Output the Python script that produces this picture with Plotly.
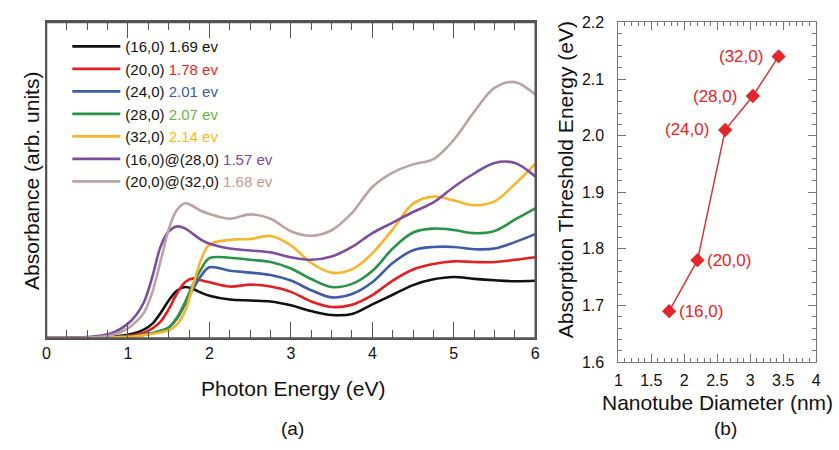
import plotly.graph_objects as go

# ---------------- data: panel (a) ----------------
energy = [0, 0.5, 0.8, 1.0, 1.1, 1.2, 1.3, 1.4, 1.5, 1.6, 1.7, 1.8, 1.9, 2.0, 2.25, 2.5, 2.75,
          3.0, 3.25, 3.5, 3.75, 4.0, 4.25, 4.5, 4.75, 5.0, 5.25, 5.5, 5.75, 6.0]

abs_16 = [0, 0.3, 1.5, 3.5, 5.5, 9, 15, 26, 39, 49, 53, 51, 47, 44, 40, 39, 38,
          34, 28, 24, 25, 35, 45, 55, 61, 63.5, 61.5, 60, 59, 59.5]
abs_20 = [0, 0.2, 1, 2.3, 3.5, 5.5, 10, 17, 30, 46, 58, 62, 60, 58, 53.5, 55.5, 53.5,
          48, 38, 32.3, 34.7, 44.7, 59.7, 71.3, 77, 79.7, 79, 79, 81.3, 84]
abs_24 = [0, 0.1, 0.5, 1.5, 2.2, 3.5, 5, 7.5, 11, 20, 35, 51, 65, 73.5, 70, 68, 65.5,
          59.7, 49.7, 42.3, 45.7, 58, 78, 91.3, 94.7, 94.7, 92.3, 93, 99.7, 108]
abs_28 = [0, 0.1, 0.5, 1.5, 2.2, 3.5, 5, 7.5, 11, 21, 37, 56, 72, 83, 83.5, 81.3, 79,
          72.3, 61.3, 53, 56.3, 69.7, 93, 109.7, 113.7, 112.3, 109, 111.3, 123, 134.7]
abs_32 = [0, 0.1, 0.5, 1.2, 2, 3, 4.5, 6, 8, 14, 28, 55, 82, 97, 102, 103, 106,
          96.3, 78, 68, 71.3, 88, 113, 139.7, 147, 143, 138, 142, 160, 181]
abs_16_28 = [0, 1, 5, 15, 24, 38, 64, 95, 111, 116, 114, 108, 102, 98, 93, 91, 89,
             84, 81.3, 84.7, 94.7, 109, 120, 131, 141, 157, 171, 182, 182, 168]
abs_20_32 = [0, 0.5, 3, 10, 17, 27, 48, 80, 113, 133, 140, 137, 132, 129, 124, 128.5, 124,
             111, 106.3, 112, 130, 157, 172, 180.5, 186, 206, 235, 260, 266, 253]

series_names = ["(16,0)", "(20,0)", "(24,0)", "(28,0)", "(32,0)", "(16,0)@(28,0)", "(20,0)@(32,0)"]
threshold_labels = ["1.69 ev", "1.78 ev", "2.01 ev", "2.07 ev", "2.14 ev", "1.57 ev", "1.68 ev"]
series_values = [abs_16, abs_20, abs_24, abs_28, abs_32, abs_16_28, abs_20_32]
line_colors = ["#111111", "#e31e24", "#3d5ba9", "#2a9446", "#f7b52c", "#7d4e9e", "#bba3a3"]
text_colors = ["#111111", "#ee1c25", "#3b5aa8", "#6ab344", "#fdb813", "#8048a0", "#c09a96"]

# ---------------- data: panel (b) ----------------
tube_labels = ["(16,0)", "(20,0)", "(24,0)", "(28,0)", "(32,0)"]
diameter_nm = [1.77, 2.20, 2.62, 3.04, 3.43]
threshold_ev = [1.69, 1.78, 2.01, 2.07, 2.14]
label_side = ["right", "right", "left", "left", "left"]

FONT = "Liberation Sans, Arial, Helvetica, sans-serif"
W, H = 839, 450
CLEAR = "rgba(0,0,0,0)"

fig = go.Figure()

for name, lab, vals, lc, tc in zip(series_names, threshold_labels, series_values, line_colors, text_colors):
    fig.add_trace(go.Scatter(
        x=energy, y=vals, mode="lines",
        line=dict(color=lc, width=2.6, shape="spline"),
        name=f"{name} <span style='color:{tc}'>{lab}</span>",
    ))

fig.add_trace(go.Scatter(
    x=diameter_nm, y=threshold_ev, mode="lines+markers", xaxis="x2", yaxis="y2",
    line=dict(color="#d8343a", width=1.5),
    marker=dict(symbol="diamond", size=11, color="#e3262b"),
    showlegend=False,
))

annotations = []
for d, e, t, side in zip(diameter_nm, threshold_ev, tube_labels, label_side):
    annotations.append(dict(
        x=d, y=e, xref="x2", yref="y2", text=t, showarrow=False,
        xanchor="left" if side == "right" else "right",
        xshift=8 if side == "right" else -14,
        font=dict(family=FONT, size=17, color="#ee2027"),
    ))

def px_x(p):
    return p / W

def px_y(p):
    return 1 - p / H

titles = [
    ("Photon Energy (eV)", 292, 395, 0, 21),
    ("(a)", 292, 437, 0, 19),
    ("Nanotube Diameter (nm)", 721, 410, 0, 21),
    ("(b)", 729, 437, 0, 19),
    ("Absorbance (arb. units)", 28, 180, -90, 21),
    ("Absorption Threshold Energy (eV)", 567, 178, -90, 21),
]
for t, x, y, ang, sz in titles:
    annotations.append(dict(
        x=px_x(x), y=px_y(y), xref="paper", yref="paper", text=t, showarrow=False,
        textangle=ang, xanchor="center", yanchor="middle",
        font=dict(family=FONT, size=sz, color="#111111"),
    ))

frame_a = "#555555"
frame_b = "#777777"

fig.update_layout(
    width=W, height=H,
    margin=dict(l=0, r=0, t=0, b=0),
    plot_bgcolor="#fffffe",
    showlegend=True,
    legend=dict(
        x=px_x(64), y=px_y(23), xanchor="left", yanchor="top",
        bgcolor=CLEAR, borderwidth=0,
        font=dict(family=FONT, size=15, color="#111111"),
        itemwidth=48, tracegroupgap=0,
    ),
    xaxis=dict(
        domain=[px_x(43), px_x(537)], anchor="y", range=[0, 6],
        showgrid=False, zeroline=False,
        showline=True, linecolor=frame_a, linewidth=1.5, mirror="ticks",
        ticks="inside", ticklen=16, tickcolor=frame_a, dtick=1,
        minor=dict(ticks="inside", ticklen=8, tickcolor=frame_a, dtick=0.25),
        tickfont=dict(family=FONT, size=16, color="#111111"),
    ),
    yaxis=dict(
        domain=[px_y(343), px_y(15)], anchor="x", range=[0, 328],
        showgrid=False, zeroline=False, showticklabels=False,
        showline=True, linecolor=frame_a, linewidth=1.5, mirror=True,
    ),
    xaxis2=dict(
        domain=[px_x(621), px_x(821)], anchor="y2", range=[1, 4],
        showgrid=False, zeroline=False,
        showline=True, linecolor=frame_b, linewidth=1, mirror="ticks",
        ticks="inside", ticklen=8, tickwidth=1, tickcolor=frame_b, dtick=0.5, tick0=1,
        minor=dict(ticks="inside", ticklen=4, tickwidth=1, tickcolor=frame_b, dtick=0.1, showgrid=False),
        tickfont=dict(family=FONT, size=16, color="#111111"),
        ticklabelstandoff=4,
    ),
    yaxis2=dict(
        domain=[px_y(368), px_y(15)], anchor="x2", range=[1.6, 2.2],
        showgrid=False, zeroline=False,
        showline=True, linecolor=frame_b, linewidth=1, mirror="ticks",
        ticks="inside", ticklen=8, tickwidth=1, tickcolor=frame_b, dtick=0.1, tick0=1.6,
        tickformat=".1f",
        minor=dict(ticks="inside", ticklen=4, tickwidth=1, tickcolor=frame_b, dtick=0.02, showgrid=False),
        tickfont=dict(family=FONT, size=16, color="#111111"),
        ticklabelstandoff=10,
    ),
    annotations=annotations,
    shapes=[dict(
        type="rect", xref="x domain", yref="y domain", x0=0, x1=1, y0=0, y1=1,
        line=dict(color=frame_a, width=1.5), fillcolor=CLEAR, layer="above",
    )],
)

fig.write_html("out.html", post_script="document.body.style.margin='0px';", config={"displayModeBar": False})
